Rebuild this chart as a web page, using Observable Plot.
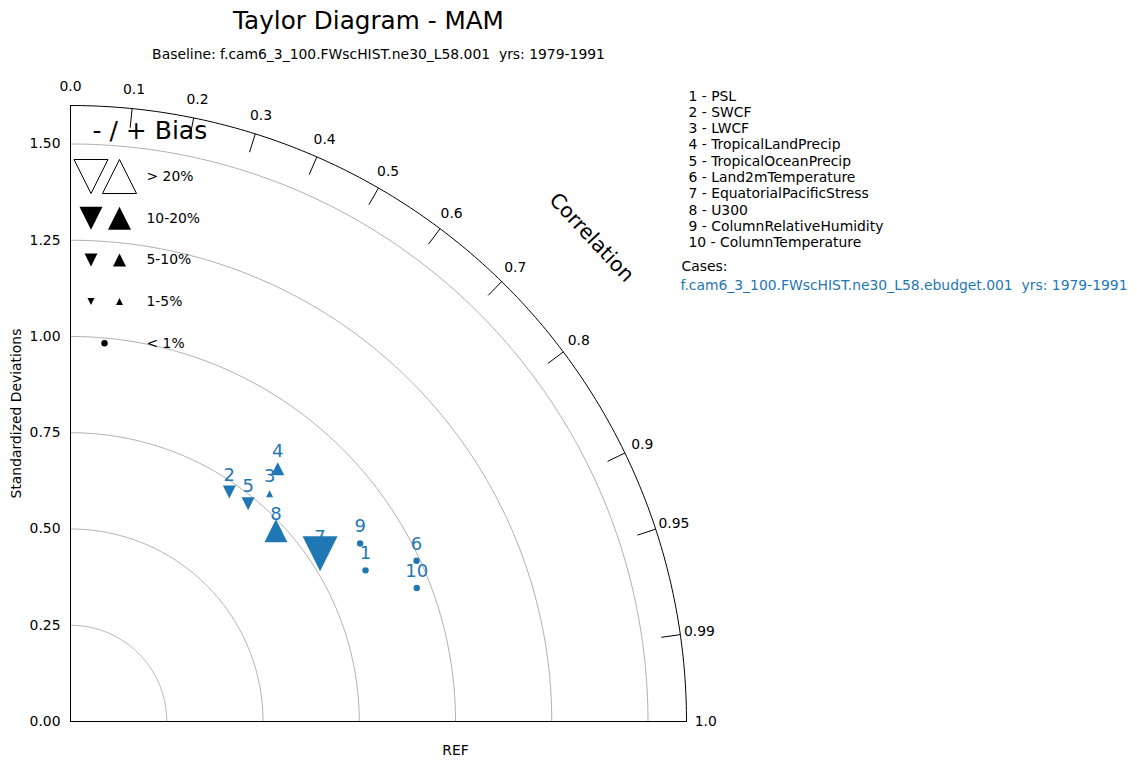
<!DOCTYPE html>
<html><head><meta charset="utf-8">
<script src="https://cdn.jsdelivr.net/npm/d3@7"></script>
<script src="https://cdn.jsdelivr.net/npm/@observablehq/plot@0.6"></script>
<style>
html,body{margin:0;padding:0;background:#fff;}
#chart svg text{white-space:pre;}
</style></head><body><div id="chart"></div>
<script>
// ---- data ----
const variables = ["PSL","SWCF","LWCF","TropicalLandPrecip","TropicalOceanPrecip","Land2mTemperature","EquatorialPacificStress","U300","ColumnRelativeHumidity","ColumnTemperature"];
const stdRatio    = [0.861, 0.725, 0.786, 0.849, 0.730, 0.991, 0.781, 0.728, 0.883, 0.964];
const correlation = [0.890, 0.569, 0.658, 0.634, 0.632, 0.907, 0.830, 0.733, 0.852, 0.933];
const biasPct     = [0.4, -7, 3, 7, -7, 0.5, -25, 15, -0.6, 0.3];
const stdTicks = [0, 0.25, 0.5, 0.75, 1.0, 1.25, 1.5];
const corrTicks = [0.1, 0.2, 0.3, 0.4, 0.5, 0.6, 0.7, 0.8, 0.9, 0.95, 0.99];
const corrLabels = [0.0, 0.1, 0.2, 0.3, 0.4, 0.5, 0.6, 0.7, 0.8, 0.9, 0.95, 0.99, 1.0];
const biasClassLabels = ["> 20%", "10-20%", "5-10%", "1-5%", "< 1%"];
const biasClassMin = [20, 10, 5, 1, 0];
const title = "Taylor Diagram - MAM";
const subtitle = "Baseline: f.cam6_3_100.FWscHIST.ne30_L58.001  yrs: 1979-1991";
const caseName = "f.cam6_3_100.FWscHIST.ne30_L58.ebudget.001  yrs: 1979-1991";

// ---- style ----
const blue = "#1f77b4";
const font = "DejaVu Sans";
const rMax = 1.6;
const classR = [17.5, 11.5, 6.5, 3.5, 3.2];

const triUp = {draw(ctx, size){const r=Math.sqrt(size/Math.PI); ctx.moveTo(0,-r); ctx.lineTo(r,r); ctx.lineTo(-r,r); ctx.closePath();}};
const triDown = {draw(ctx, size){const r=Math.sqrt(size/Math.PI); ctx.moveTo(0,r); ctx.lineTo(r,-r); ctx.lineTo(-r,-r); ctx.closePath();}};

const classOf = b => biasClassMin.findIndex(m => Math.abs(b) >= m);
const pts = variables.map((v, i) => {
  const s = stdRatio[i], c = correlation[i];
  return {id: String(i + 1), name: v, x: s * c, y: s * Math.sqrt(1 - c * c), cls: classOf(biasPct[i]), up: biasPct[i] > 0};
});

// arcs
const angles = d3.range(0, 90.001, 0.5).map(a => a * Math.PI / 180);
const arcPts = [];
stdTicks.slice(1).forEach(r => angles.forEach(a => arcPts.push({r, x: r * Math.cos(a), y: r * Math.sin(a)})));
const outerPts = angles.map(a => ({x: rMax * Math.cos(a), y: rMax * Math.sin(a)}));

const polarX = (r, c) => r * c;
const polarY = (r, c) => r * Math.sqrt(Math.max(0, 1 - c * c));
const fmtCorr = c => Number.isInteger(Math.round(c * 1000) / 100) ? c.toFixed(1) : String(c);

// layout (pixels -> data units)
const W = 1137, H = 768, mL = 70, mR = 451, mT = 105, mB = 47;
const k = (W - mL - mR) / rMax;
const px = p => (p - mL) / k;
const py = p => (H - mB - p) / k;

const dataMarks = [];
// labels first, markers on top
dataMarks.push(Plot.text(pts, {x: "x", y: "y", text: "id", dy: -17, fill: blue, fontSize: 18}));
biasClassLabels.forEach((lab, ci) => {
  const grp = pts.filter(d => d.cls === ci);
  if (ci === 4) {
    if (grp.length) dataMarks.push(Plot.dot(grp, {x: "x", y: "y", r: classR[ci], fill: blue, stroke: null, symbol: "circle"}));
  } else {
    const ups = grp.filter(d => d.up), downs = grp.filter(d => !d.up);
    if (ups.length) dataMarks.push(Plot.dot(ups, {x: "x", y: "y", r: classR[ci], fill: blue, stroke: null, symbol: triUp}));
    if (downs.length) dataMarks.push(Plot.dot(downs, {x: "x", y: "y", r: classR[ci], fill: blue, stroke: null, symbol: triDown}));
  }
});

// bias legend
const legendRows = biasClassLabels.map((lab, i) => ({lab, i, y: py(176 + i * 41.7)}));
const legendMarks = [];
legendRows.forEach(row => {
  const i = row.i, open = i === 0;
  if (i === 4) {
    legendMarks.push(Plot.dot([row], {x: px(104), y: "y", r: classR[i], fill: "black", symbol: "circle"}));
  } else {
    const r = open ? classR[i] - 0.5 : classR[i];
    legendMarks.push(Plot.dot([row], {x: px(90.5), y: "y", r, symbol: triDown, fill: open ? "none" : "black", stroke: open ? "black" : null, strokeWidth: 1}));
    legendMarks.push(Plot.dot([row], {x: px(119), y: "y", r, symbol: triUp, fill: open ? "none" : "black", stroke: open ? "black" : null, strokeWidth: 1}));
  }
});
legendMarks.push(Plot.text(legendRows, {x: px(146), y: "y", text: "lab", textAnchor: "start", fontSize: 13.9}));
legendMarks.push(Plot.text(["- / + Bias"], {frameAnchor: "top-left", dx: 22, dy: 25, textAnchor: "start", lineAnchor: "middle", fontSize: 25}));

const varList = variables.map((v, i) => `${i + 1} - ${v}`).join("\n");

const chart = Plot.plot({
  width: W, height: H,
  marginLeft: mL, marginRight: mR, marginTop: mT, marginBottom: mB,
  x: {domain: [0, rMax]},
  y: {domain: [0, rMax]},
  style: {fontFamily: font, fontSize: "13.9px", background: "white", color: "black", overflow: "visible"},
  marks: [
    Plot.line(arcPts, {x: "x", y: "y", z: "r", stroke: "#b0b0b0", strokeWidth: 1}),
    Plot.line(outerPts, {x: "x", y: "y", stroke: "black", strokeWidth: 1}),
    Plot.ruleX([0], {y1: 0, y2: rMax, stroke: "black", strokeWidth: 1}),
    Plot.ruleY([0], {x1: 0, x2: rMax, stroke: "black", strokeWidth: 1}),
    Plot.axisY({ticks: stdTicks, tickFormat: d3.format(".2f"), tickSize: 0, tickPadding: 10, label: null, fontSize: 13.9}),
    Plot.axisX({ticks: [1], tickFormat: () => "REF", tickSize: 0, tickPadding: 24, label: null, fontSize: 13.9}),
    Plot.text(["Standardized Deviations"], {frameAnchor: "left", dx: -54, rotate: -90, textAnchor: "middle", lineAnchor: "middle", fontSize: 13.9}),
    Plot.link(corrTicks, {x1: c => polarX(rMax - 0.05, c), y1: c => polarY(rMax - 0.05, c), x2: c => polarX(rMax, c), y2: c => polarY(rMax, c), stroke: "black", strokeWidth: 1}),
    Plot.text(corrLabels, {x: c => polarX(1.65, c), y: c => polarY(1.65, c), text: fmtCorr, fontSize: 13.9}),
    Plot.text(["Correlation"], {x: px(591), y: py(237), rotate: 47, fontSize: 20.5}),
    ...legendMarks,
    ...dataMarks,
    Plot.text([title], {frameAnchor: "top-left", dx: 298, dy: -84, textAnchor: "middle", lineAnchor: "middle", fontSize: 24.7}),
    Plot.text([subtitle], {frameAnchor: "top-left", dx: 308, dy: -51, textAnchor: "middle", lineAnchor: "middle", fontSize: 13.9}),
    Plot.text([varList], {frameAnchor: "top-left", dx: 618, dy: -16.5, textAnchor: "start", lineAnchor: "top", lineHeight: 1.172, fontSize: 13.9}),
    Plot.text(["Cases:"], {frameAnchor: "top-left", dx: 611, dy: 161, textAnchor: "start", lineAnchor: "middle", fontSize: 13.9}),
    Plot.text([caseName], {frameAnchor: "top-left", dx: 610, dy: 180, textAnchor: "start", lineAnchor: "middle", fontSize: 13.9, fill: blue})
  ]
});
document.getElementById("chart").appendChild(chart);
</script></body></html>
